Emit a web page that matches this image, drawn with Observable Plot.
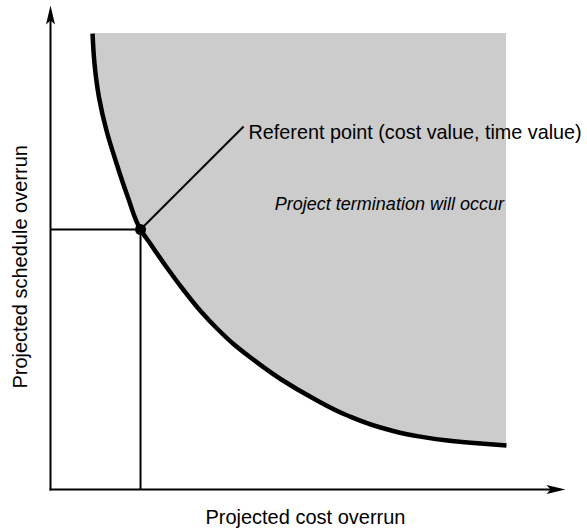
<!DOCTYPE html>
<html><head><meta charset="utf-8">
<script src="https://cdn.jsdelivr.net/npm/d3@7"></script>
<script src="https://cdn.jsdelivr.net/npm/@observablehq/plot@0.6"></script>
<style>body{margin:0;background:#fff}</style>
</head><body><div id="chart"></div>
<script>
// Threshold curve (projected cost overrun, projected schedule overrun)
const curveX = [8.16, 8.54, 9.42, 10.87, 12.82, 15.05, 17.48, 19.42, 22.72, 25.83, 29.13, 32.43, 35.53, 38.83, 44.66, 51.07, 57.67, 64.08, 70.49, 77.09, 83.50, 88.54];
const curveY = [94.21, 88.02, 80.99, 74.17, 67.36, 60.33, 53.72, 50.72, 45.66, 41.22, 36.88, 33.16, 30.06, 27.27, 22.83, 18.80, 15.29, 12.81, 11.16, 10.12, 9.50, 9.09];
const shadeRight = 88.54;
const refPoint = [{x: 17.48, y: 53.72}];
const leaderEnd = [{x: 37.5, y: 75.0}];
const refLabelPos = [{x: 38.45, y: 73.8}];
const regionLabelPos = [{x: 65.8, y: 58.9}];
const xLabelPos = [{x: 49.5, y: -5.8}];
const yLabelPos = [{x: -5.8, y: 46.0}];
const axisMax = [100, 100];
const labelRef = "Referent point (cost value, time value)";
const labelRegion = "Project termination will occur";
const labelX = "Projected cost overrun";
const labelY = "Projected schedule overrun";

const curve = curveX.map((x, i) => ({x, y: curveY[i]}));
const font = "Liberation Sans, Arial, sans-serif";

const arrowUp = {draw(ctx) { ctx.moveTo(0, 0); ctx.lineTo(4.5, 19); ctx.lineTo(0, 15); ctx.lineTo(-4.5, 19); ctx.closePath(); }};
const arrowRight = {draw(ctx) { ctx.moveTo(0, 0); ctx.lineTo(-19, 4.5); ctx.lineTo(-15, 0); ctx.lineTo(-19, -4.5); ctx.closePath(); }};

const chart = Plot.plot({
  width: 587,
  height: 529,
  marginLeft: 50,
  marginRight: 22,
  marginTop: 5,
  marginBottom: 40,
  x: {domain: [0, axisMax[0]], axis: null},
  y: {domain: [0, axisMax[1]], axis: null},
  style: {fontFamily: font, background: "#fff"},
  marks: [
    Plot.areaX(curve, {y: "y", x1: "x", x2: shadeRight, fill: "#cccccc", curve: "monotone-y"}),
    Plot.line(curve, {x: "x", y: "y", stroke: "#000", strokeWidth: 4.5, curve: "monotone-y", strokeLinecap: "butt"}),
    // reference lines to the axes
    Plot.link(refPoint, {x1: 0, y1: "y", x2: "x", y2: "y", stroke: "#000", strokeWidth: 2}),
    Plot.link(refPoint, {x1: "x", y1: 0, x2: "x", y2: "y", stroke: "#000", strokeWidth: 2}),
    // leader line
    Plot.link(refPoint, {x1: "x", y1: "y", x2: () => leaderEnd[0].x, y2: () => leaderEnd[0].y, stroke: "#000", strokeWidth: 2}),
    Plot.dot(refPoint, {x: "x", y: "y", r: 5.5, fill: "#000"}),
    // axes
    Plot.link([{x1: 0, y1: 0, x2: axisMax[0] - 2, y2: 0}, {x1: 0, y1: 0, x2: 0, y2: axisMax[1] - 2}], {x1: "x1", y1: "y1", x2: "x2", y2: "y2", stroke: "#000", strokeWidth: 2, strokeLinecap: "square"}),
    Plot.dot([{x: 0, y: axisMax[1]}], {x: "x", y: "y", symbol: arrowUp, fill: "#000", stroke: null, r: 5}),
    Plot.dot([{x: axisMax[0], y: 0}], {x: "x", y: "y", symbol: arrowRight, fill: "#000", stroke: null, r: 5}),
    // texts
    Plot.text(refLabelPos, {x: "x", y: "y", text: () => labelRef, textAnchor: "start", fontSize: 19.8, fill: "#000"}),
    Plot.text(regionLabelPos, {x: "x", y: "y", text: () => labelRegion, fontSize: 18, fontStyle: "italic", fill: "#000"}),
    Plot.text(xLabelPos, {x: "x", y: "y", text: () => labelX, fontSize: 20, fill: "#000"}),
    Plot.text(yLabelPos, {x: "x", y: "y", text: () => labelY, fontSize: 20, rotate: -90, fill: "#000"})
  ]
});
document.getElementById("chart").appendChild(chart);
</script>
</body></html>
